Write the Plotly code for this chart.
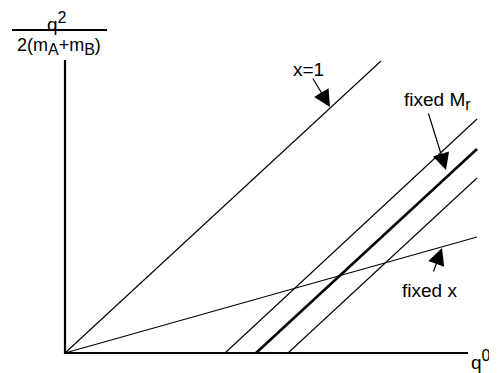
import plotly.graph_objects as go

# ---- data (arbitrary units: q0 horizontally, q^2/2(mA+mB) vertically) ----
axis_x_end = 4.03
axis_y_end = 2.93

x1_line_x = [0.0, 3.16]
x1_line_y = [0.0, 2.92]

fixedx_line_x = [0.0, 4.12]
fixedx_line_y = [0.0, 1.16]

mr_start_x = [1.60, 1.91, 2.23]       # intercepts on the q0 axis
mr_end_x = [4.12, 4.12, 4.12]
mr_end_y = [2.34, 2.04, 1.75]
mr_widths = [1.1, 2.6, 1.1]

FONT = "Liberation Sans, Arial, Helvetica, sans-serif"

fig = go.Figure()

# axes
fig.add_trace(go.Scatter(x=[0, 0, axis_x_end], y=[axis_y_end, 0, 0], mode="lines",
                         line=dict(color="black", width=2.2), hoverinfo="skip"))
# x = 1 line
fig.add_trace(go.Scatter(x=x1_line_x, y=x1_line_y, mode="lines",
                         line=dict(color="black", width=1.1), hoverinfo="skip"))
# fixed x line
fig.add_trace(go.Scatter(x=fixedx_line_x, y=fixedx_line_y, mode="lines",
                         line=dict(color="black", width=1.1), hoverinfo="skip"))
# fixed Mr lines
for x0, x1, y1, w in zip(mr_start_x, mr_end_x, mr_end_y, mr_widths):
    fig.add_trace(go.Scatter(x=[x0, x1], y=[0, y1], mode="lines",
                             line=dict(color="black", width=w), hoverinfo="skip"))

ann = []
def txt(x, y, t, size=19):
    ann.append(dict(x=x, y=y, xref="x", yref="y", text=t, showarrow=False,
                    font=dict(family=FONT, size=size, color="black")))

def arrow(hx, hy, tx, ty):
    ann.append(dict(x=hx, y=hy, ax=tx, ay=ty, xref="x", yref="y", axref="x", ayref="y",
                    text="", showarrow=True, arrowhead=2, arrowsize=2.8,
                    arrowwidth=1.2, arrowcolor="black", standoff=0))

def big(s, px):
    return '<span style="font-size:%dpx">%s</span>' % (px, s)

txt(2.43, 2.84, "x=1")
txt(3.72, 2.52, "fixed M<sub>" + big("r", 16) + "</sub>")
txt(3.64, 0.63, "fixed x")
txt(-0.08, 3.31, "q<sup>" + big("2", 16) + "</sup>")
txt(-0.06, 3.07, "2(m<sub>" + big("A", 16) + "</sub>+m<sub>" + big("B", 16) + "</sub>)", size=18)
txt(4.16, -0.07, "q<sup>" + big("0", 16) + "</sup>")

arrow(2.65, 2.46, 2.47, 2.76)
arrow(3.81, 1.83, 3.63, 2.41)
arrow(3.77, 1.05, 3.68, 0.80)

# page body has an 8px margin: figure is shrunk and ranges offset accordingly
fig.update_layout(
    width=489, height=365,
    margin=dict(l=0, r=0, t=0, b=0),
    paper_bgcolor="white", plot_bgcolor="white",
    showlegend=False,
    xaxis=dict(range=[-0.57, 4.32], visible=False, fixedrange=True),
    yaxis=dict(range=[-0.20, 3.45], visible=False, fixedrange=True),
    annotations=ann,
    shapes=[dict(type="line", xref="x", yref="y", x0=-0.53, x1=0.42, y0=3.23, y1=3.23,
                 line=dict(color="black", width=2))],
)

fig.write_html("out.html")
